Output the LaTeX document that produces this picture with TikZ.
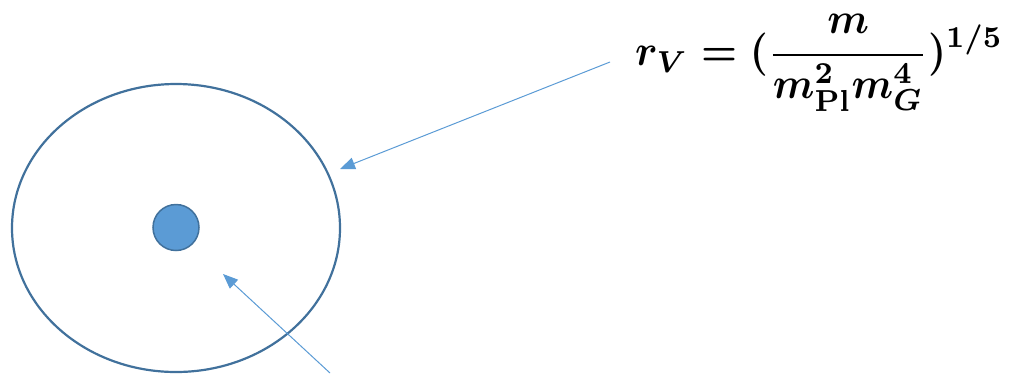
\documentclass[tikz,border=0pt]{standalone}
\usepackage{graphicx}
\usetikzlibrary{shapes.geometric,arrows.meta}
\definecolor{edgeblue}{HTML}{41719C}
\definecolor{fillblue}{HTML}{5B9BD5}
\tikzset{
  outerring/.style={ellipse,draw=edgeblue,line width=2.2pt,minimum width=328pt,minimum height=288pt,inner sep=0pt},
  source/.style={circle,draw=edgeblue,fill=fillblue,line width=1.5pt,minimum size=46pt,inner sep=0pt},
  pointer/.style={draw=fillblue,line width=1pt,-{Triangle[length=15pt,width=12pt]}}
}
\begin{document}
\begin{tikzpicture}[x=1pt,y=-1pt]
\useasboundingbox (0,0) rectangle (1014,373);
\node[outerring] (outer) at (176,228) {};
\node[source] (src) at (176,227.5) {};
\node[anchor=north west,inner sep=0pt] (rv) at (635,14) {\resizebox*{368pt}{97pt}{\boldmath$\displaystyle r_V=(\frac{m}{m_{\mathrm{Pl}}^2m_G^4})^{1/5}$}};
\coordinate (a1s) at (610,62);
\coordinate (a1e) at (340,169);
\coordinate (a2s) at (330,373);
\coordinate (a2e) at (223,274);
\draw[pointer] (a1s) -- (a1e);
\draw[pointer] (a2s) -- (a2e);
\end{tikzpicture}
\end{document}
